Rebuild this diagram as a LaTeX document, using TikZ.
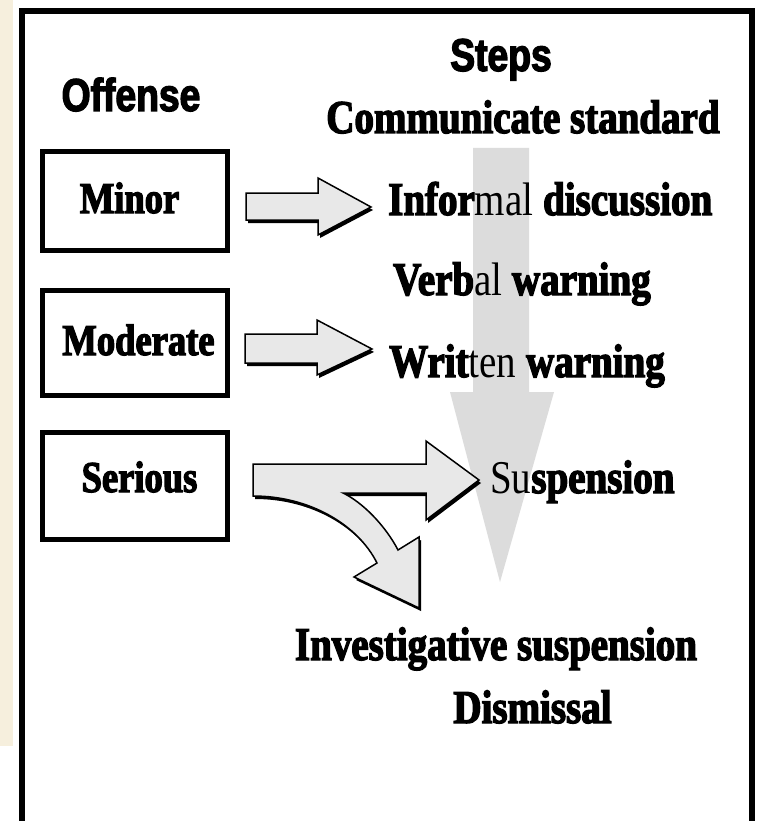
\documentclass[tikz,border=0pt]{standalone}
\usepackage{fontspec}
\newfontfamily\serifB[UprightFont={* Bold},FakeStretch=0.83,FakeBold=2.8]{Liberation Serif}
\newfontfamily\serifR[FakeStretch=0.83]{Liberation Serif}
\newfontfamily\sansB[UprightFont={* Bold},FakeStretch=0.81,FakeBold=2.8]{Liberation Sans}
\definecolor{beige}{HTML}{F6EFDD}
\definecolor{arrowfill}{HTML}{E8E8E8}
\definecolor{bigarrow}{HTML}{DCDCDC}
\newcommand\drawblock[1]{%
  \fill[black,shift={(2,3)}] #1;
  \filldraw[blockarrow] #1;}
\begin{document}
\begin{tikzpicture}[x=1pt,y=-1pt,
  stepT/.style={inner sep=0pt,font=\fontsize{47}{50}\selectfont\serifB},
  offT/.style={inner sep=0pt,font=\fontsize{44}{48}\selectfont\serifB},
  headT/.style={inner sep=0pt,font=\fontsize{46}{50}\selectfont\sansB},
  offbox/.style={draw,line width=5pt,minimum width=185pt,inner sep=0pt},
  blockarrow/.style={fill=arrowfill,draw=black,line width=1.5pt,line join=miter}]
\useasboundingbox (0,0) rectangle (758,821);
\fill[white] (0,0) rectangle (758,821);
% beige strip
\fill[beige] (0,0) rectangle (13,746);
% frame
\draw[line width=6pt,line join=miter] (21.5,830) -- (21.5,11) -- (751.5,11) -- (751.5,830);
% big grey arrow
\fill[bigarrow] (473,148) -- (529,148) -- (529,392) -- (554,392) -- (500,582) -- (450,392) -- (473,392) -- cycle;
% offense boxes
\node[offbox,minimum height=99pt] (minor) at (135,201) {};
\node[offbox,minimum height=105pt] (moderate) at (135,343) {};
\node[offbox,minimum height=107pt] (serious) at (135,486) {};
\node[offT,anchor=base] (minorT) at (129.5,213) {Minor};
\node[offT,anchor=base] (moderateT) at (138.5,355) {Moderate};
\node[offT,anchor=base] (seriousT) at (139.5,492) {Serious};
% headings
\node[headT,anchor=base] (offense) at (131,111) {Offense};
\node[headT,anchor=base] (steps) at (501,71) {Steps};
% steps
\node[stepT,anchor=base] (s0) at (523,133) {Communicate standard};
\node[stepT,anchor=base west] (s1) at (388,215) {Infor{\serifR mal} discussion};
\node[stepT,anchor=base west] (s2) at (393,295) {Verb{\serifR al} warning};
\node[stepT,anchor=base west] (s3) at (389,377) {Writ{\serifR ten} warning};
\node[stepT,anchor=base west] (s4) at (490,493) {{\serifR Su}spension};
\node[stepT,anchor=base] (s5) at (496,660) {Investigative suspension};
\node[stepT,anchor=base] (s6) at (532.5,723) {Dismissal};
% block arrows
\drawblock{(246,193) -- (318,193) -- (318,178) -- (371,207) -- (318,235) -- (318,220) -- (246,220) -- cycle}
\drawblock{(245,334) -- (317,334) -- (317,320) -- (372,349) -- (317,375) -- (317,363) -- (245,363) -- cycle}
\drawblock{(253,464) -- (426,464) -- (426,441) -- (479,480) -- (426,520) -- (426,493) -- (343,493) .. controls (362,502) and (385,525) .. (398,550) -- (419,537) -- (419,608) -- (354,577) -- (377,563) .. controls (358,525) and (310,496) .. (253,496) -- cycle}
\end{tikzpicture}
\end{document}
